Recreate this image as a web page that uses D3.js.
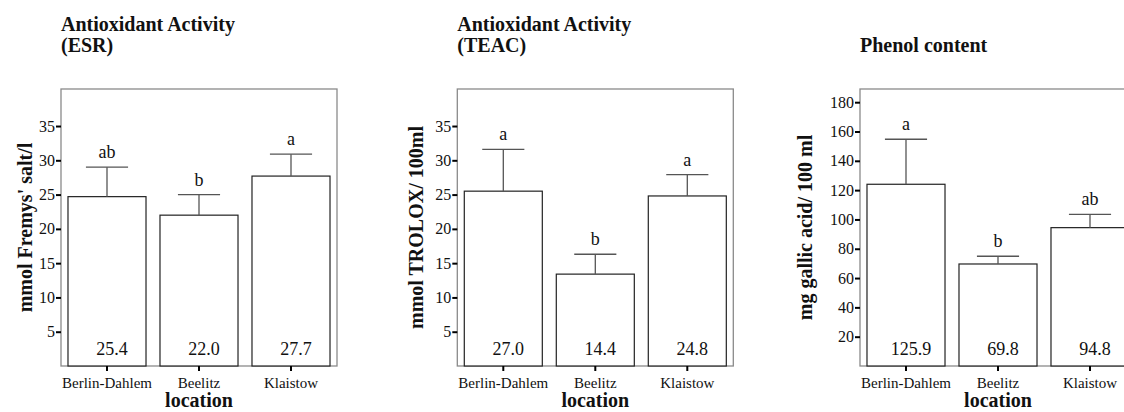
<!DOCTYPE html>
<html>
<head>
<meta charset="utf-8">
<script src="https://cdn.jsdelivr.net/npm/d3@7"></script>
<style>
  body { margin: 0; background: #fff; }
  text { font-family: "Liberation Serif", "Times New Roman", serif; fill: #111; }
</style>
</head>
<body>
<div id="chart"></div>
<script>
var WIDTH = 1124, HEIGHT = 412;

// data
var categories = ["Berlin-Dahlem", "Beelitz", "Klaistow"];

var esrMeans = [24.7, 22.0, 27.7];
var esrErr = [4.3, 3.0, 3.2];
var esrLabels = ["25.4", "22.0", "27.7"];
var esrLetters = ["ab", "b", "a"];
var esrTicks = [5, 10, 15, 20, 25, 30, 35];

var teacMeans = [25.5, 13.4, 24.8];
var teacErr = [6.1, 2.9, 3.1];
var teacLabels = ["27.0", "14.4", "24.8"];
var teacLetters = ["a", "b", "a"];
var teacTicks = [5, 10, 15, 20, 25, 30, 35];

var phenolMeans = [124.0, 69.6, 94.4];
var phenolErr = [30.7, 5.3, 9.1];
var phenolLabels = ["125.9", "69.8", "94.8"];
var phenolLetters = ["a", "b", "ab"];
var phenolTicks = [20, 40, 60, 80, 100, 120, 140, 160, 180];

var panels = [
  {left: 61, title: ["Antioxidant Activity", "(ESR)"], ylabel: "mmol Fremys' salt/l", labelX: -29,
   means: esrMeans, err: esrErr, labels: esrLabels, letters: esrLetters, ticks: esrTicks, max: 40.4},
  {left: 457.3, title: ["Antioxidant Activity", "(TEAC)"], ylabel: "mmol TROLOX/ 100ml", labelX: -34,
   means: teacMeans, err: teacErr, labels: teacLabels, letters: teacLetters, ticks: teacTicks, max: 40.4},
  {left: 860, title: ["", "Phenol content"], ylabel: "mg gallic acid/ 100 ml", labelX: -48,
   means: phenolMeans, err: phenolErr, labels: phenolLabels, letters: phenolLetters, ticks: phenolTicks, max: 189}
];

var plotW = 276, plotTop = 89, plotBottom = 366;

var svg = d3.select("#chart").append("svg")
  .attr("width", WIDTH)
  .attr("height", HEIGHT);

panels.forEach(function(p) {
  var g = svg.append("g").attr("transform", "translate(" + p.left + ",0)");

  var x = d3.scaleBand().domain(categories).range([0, plotW]).paddingInner(0.152).paddingOuter(0.076);
  var y = d3.scaleLinear().domain([0, p.max]).range([plotBottom, plotTop]);

  var rows = categories.map(function(c, i) {
    return {cat: c, mean: p.means[i], err: p.err[i], label: p.labels[i], letter: p.letters[i]};
  });

  // title
  p.title.forEach(function(t, i) {
    g.append("text")
      .attr("x", 0).attr("y", 31 + i * 21)
      .style("font-size", "20px").style("font-weight", "bold")
      .text(t);
  });

  // frame
  g.append("rect")
    .attr("x", 0).attr("y", plotTop)
    .attr("width", plotW).attr("height", plotBottom - plotTop)
    .attr("fill", "none").attr("stroke", "#8a8a8a").attr("stroke-width", 1.3);

  // bars
  g.selectAll(".bar").data(rows).enter().append("rect")
    .attr("class", "bar")
    .attr("x", function(d) { return x(d.cat); })
    .attr("y", function(d) { return y(d.mean); })
    .attr("width", x.bandwidth())
    .attr("height", function(d) { return plotBottom - y(d.mean); })
    .attr("fill", "#fff").attr("stroke", "#222").attr("stroke-width", 1.2);

  // error bars
  var capW = x.bandwidth() * 0.54;
  g.selectAll(".eb").data(rows).enter().append("line")
    .attr("x1", function(d) { return x(d.cat) + x.bandwidth() / 2; })
    .attr("x2", function(d) { return x(d.cat) + x.bandwidth() / 2; })
    .attr("y1", function(d) { return y(d.mean); })
    .attr("y2", function(d) { return y(d.mean + d.err); })
    .attr("stroke", "#555").attr("stroke-width", 1.3);
  g.selectAll(".cap").data(rows).enter().append("line")
    .attr("x1", function(d) { return x(d.cat) + x.bandwidth() / 2 - capW / 2; })
    .attr("x2", function(d) { return x(d.cat) + x.bandwidth() / 2 + capW / 2; })
    .attr("y1", function(d) { return y(d.mean + d.err); })
    .attr("y2", function(d) { return y(d.mean + d.err); })
    .attr("stroke", "#555").attr("stroke-width", 1.3);

  // significance letters
  g.selectAll(".letter").data(rows).enter().append("text")
    .attr("x", function(d) { return x(d.cat) + x.bandwidth() / 2; })
    .attr("y", function(d) { return y(d.mean + d.err) - 9; })
    .attr("text-anchor", "middle")
    .style("font-size", "18px")
    .text(function(d) { return d.letter; });

  // value labels
  g.selectAll(".val").data(rows).enter().append("text")
    .attr("x", function(d) { return x(d.cat) + x.bandwidth() / 2 + 5; })
    .attr("y", plotBottom - 11)
    .attr("text-anchor", "middle")
    .style("font-size", "18px")
    .text(function(d) { return d.label; });

  // axes
  var yAxis = g.append("g")
    .call(d3.axisLeft(y).tickValues(p.ticks).tickSize(5).tickPadding(1).tickFormat(d3.format("d")));
  yAxis.select(".domain").remove();
  yAxis.selectAll(".tick line").attr("stroke", "#000").attr("stroke-width", 2);
  yAxis.selectAll(".tick text").style("font-size", "16px").attr("fill", "#111")
    .style("font-family", "'Liberation Serif', 'Times New Roman', serif");

  var xAxis = g.append("g")
    .attr("transform", "translate(0," + plotBottom + ")")
    .call(d3.axisBottom(x).tickSize(5).tickPadding(6));
  xAxis.select(".domain").remove();
  xAxis.selectAll(".tick line").attr("stroke", "#000").attr("stroke-width", 2);
  xAxis.selectAll(".tick text").style("font-size", "15px").attr("fill", "#111")
    .style("font-family", "'Liberation Serif', 'Times New Roman', serif");

  // axis titles
  g.append("text")
    .attr("x", plotW / 2).attr("y", 407)
    .attr("text-anchor", "middle")
    .style("font-size", "20px").style("font-weight", "bold")
    .text("location");

  g.append("text")
    .attr("transform", "translate(" + p.labelX + "," + ((plotTop + plotBottom) / 2) + ") rotate(-90)")
    .attr("text-anchor", "middle")
    .style("font-size", "20px").style("font-weight", "bold")
    .text(p.ylabel);
});
</script>
</body>
</html>
